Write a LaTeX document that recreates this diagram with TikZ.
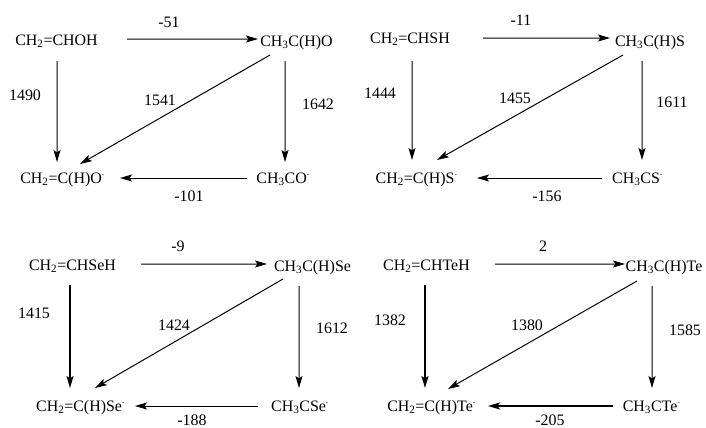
\documentclass[tikz,border=0pt]{standalone}
\usepackage{fontspec}
\setmainfont{Liberation Serif}
\newfontfamily\tnr{Liberation Serif}
\usetikzlibrary{arrows.meta}
\newcommand\lo[1]{\textsubscript{#1}}
\newcommand\anion{\textsuperscript{\scriptsize-}}
\begin{document}
\begin{tikzpicture}[x=1bp,y=-1bp,
  chem/.style={inner sep=0pt,text height=11bp,text depth=1bp,font=\tnr\fontsize{16}{18}\selectfont},
  num/.style={inner sep=0pt,text height=11bp,text depth=1bp,font=\tnr\fontsize{16}{18}\selectfont},
  arr/.style={line width=1bp,-{Stealth[length=12bp,width=7bp,inset=2.5bp]}},
  thick arr/.style={arr,line width=1.6bp}]
\useasboundingbox (0,0) rectangle (706,427);
% ---------- panel 1 ----------
\node[chem] (n11) at (56.5,40) {CH\lo{2}=CHOH};
\node[chem] (n12) at (296.5,41) {CH\lo{3}C(H)O};
\node[chem] (n13) at (62.5,178) {CH\lo{2}=C(H)O\anion};
\node[chem] (n14) at (283,178) {CH\lo{3}CO\anion};
\draw[arr] ([xshift=70.5bp,yshift=1bp]n11.center) -- ([xshift=-38.5bp,yshift=2bp]n12.center);
\draw[arr] ([xshift=0.5bp,yshift=-21bp]n11.center) -- ([xshift=-5.5bp,yshift=16bp]n13.center);
\draw[arr] ([xshift=-11.5bp,yshift=-20bp]n12.center) -- ([xshift=2bp,yshift=16bp]n14.center);
\draw[arr] ([xshift=-26.5bp,yshift=-14bp]n12.center) -- ([xshift=17.5bp,yshift=14bp]n13.center);
\draw[arr] ([xshift=-36bp]n14.center) -- ([xshift=57.5bp]n13.center);
\node[num] (l11) at (169,22) {-51};
\node[num] (l12) at (25,95) {1490};
\node[num] (l13) at (160,100) {1541};
\node[num] (l14) at (318,104) {1642};
\node[num] (l15) at (189,196) {-101};
% ---------- panel 2 ----------
\node[chem] (n21) at (410,38) {CH\lo{2}=CHSH};
\node[chem] (n22) at (650,41) {CH\lo{3}C(H)S};
\node[chem] (n23) at (416.5,178) {CH\lo{2}=C(H)S\anion};
\node[chem] (n24) at (637.5,178) {CH\lo{3}CS\anion};
\draw[arr] ([xshift=73bp]n21.center) -- ([xshift=-40bp,yshift=3bp]n22.center);
\draw[arr] ([xshift=2bp,yshift=-23bp]n21.center) -- ([xshift=-4.5bp,yshift=18bp]n23.center);
\draw[arr] ([xshift=-8bp,yshift=-20bp]n22.center) -- ([xshift=4.5bp,yshift=18bp]n24.center);
\draw[arr] ([xshift=-27bp,yshift=-14bp]n22.center) -- ([xshift=20.5bp,yshift=18bp]n23.center);
\draw[arr] ([xshift=-35.5bp]n24.center) -- ([xshift=60.5bp]n23.center);
\node[num] (l21) at (521,20) {-11};
\node[num] (l22) at (380,93) {1444};
\node[num] (l23) at (515,98) {1455};
\node[num] (l24) at (672,102) {1611};
\node[num] (l25) at (547,196) {-156};
% ---------- panel 3 ----------
\node[chem] (n31) at (72.5,265) {CH\lo{2}=CHSeH};
\node[chem] (n32) at (312.5,266) {CH\lo{3}C(H)Se};
\node[chem] (n33) at (80.5,406) {CH\lo{2}=C(H)Se\anion};
\node[chem] (n34) at (300,406) {CH\lo{3}CSe\anion};
\draw[arr] ([xshift=68.5bp,yshift=1bp]n31.center) -- ([xshift=-45.5bp,yshift=2bp]n32.center);
\draw[thick arr] ([xshift=-2.5bp,yshift=-20bp]n31.center) -- ([xshift=-10.5bp,yshift=18bp]n33.center);
\draw[arr] ([xshift=-13.5bp,yshift=-20bp]n32.center) -- ([xshift=-1bp,yshift=18bp]n34.center);
\draw[arr] ([xshift=-29.5bp,yshift=-13bp]n32.center) -- ([xshift=14.5bp,yshift=18bp]n33.center);
\draw[arr] ([xshift=-42bp]n34.center) -- ([xshift=54.5bp]n33.center);
\node[num] (l31) at (178,246) {-9};
\node[num] (l32) at (34,313) {1415};
\node[num] (l33) at (174,325) {1424};
\node[num] (l34) at (332,328) {1612};
\node[num] (l35) at (192,420) {-188};
% ---------- panel 4 ----------
\node[chem] (n41) at (426.5,265) {CH\lo{2}=CHTeH};
\node[chem] (n42) at (664,266) {CH\lo{3}C(H)Te};
\node[chem] (n43) at (431.5,406) {CH\lo{2}=C(H)Te\anion};
\node[chem] (n44) at (651.5,406) {CH\lo{3}CTe\anion};
\draw[arr] ([xshift=68.5bp,yshift=1bp]n41.center) -- ([xshift=-39bp,yshift=2bp]n42.center);
\draw[thick arr] ([xshift=-1.5bp,yshift=-20bp]n41.center) -- ([xshift=-6.5bp,yshift=18bp]n43.center);
\draw[arr] ([xshift=-12bp,yshift=-20bp]n42.center) -- ([xshift=0.5bp,yshift=18bp]n44.center);
\draw[arr] ([xshift=-27bp,yshift=-15bp]n42.center) -- ([xshift=16.5bp,yshift=17bp]n43.center);
\draw[thick arr] ([xshift=-38.5bp]n44.center) -- ([xshift=56.5bp]n43.center);
\node[num] (l41) at (543,246) {2};
\node[num] (l42) at (390,320) {1382};
\node[num] (l43) at (527,325) {1380};
\node[num] (l44) at (685,330) {1585};
\node[num] (l45) at (550,420) {-205};
\end{tikzpicture}
\end{document}
